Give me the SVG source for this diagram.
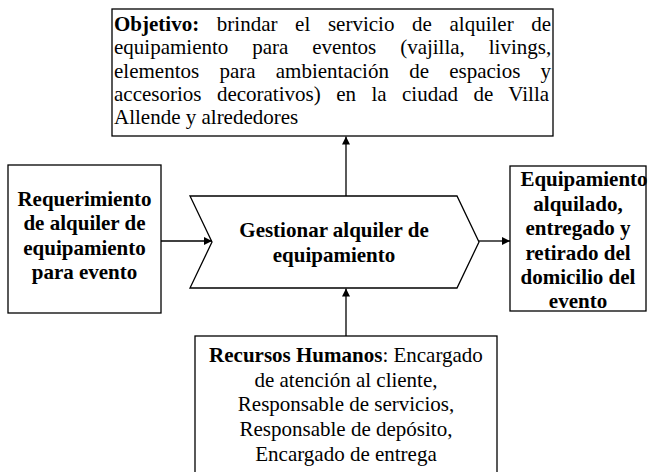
<svg xmlns="http://www.w3.org/2000/svg" width="648" height="472" viewBox="0 0 648 472">
<style>
.box{fill:#fff;stroke:#000;stroke-width:1.3}
.t{font-family:'Liberation Serif','Times New Roman',serif;font-size:21px;fill:#000}
.b{font-weight:bold}
.c{text-anchor:middle}
.conn{stroke:#000;stroke-width:1.3;fill:none}
</style>
<defs>
<marker id="arr" viewBox="0 0 10 10" refX="10" refY="5" markerWidth="8" markerHeight="8" markerUnits="userSpaceOnUse" orient="auto">
<path d="M0,0 L10,5 L0,10 Z" fill="#000"/>
</marker>
</defs>
<rect width="648" height="472" fill="#fff"/>
<g id="objetivo">
<rect class="box" x="112" y="9" width="441" height="127"/>
<text class="t" x="114" y="31" word-spacing="12.4"><tspan class="b">Objetivo:</tspan> brindar el servicio de alquiler de</text>
<text class="t" x="114" y="54.3" word-spacing="18.6">equipamiento para eventos (vajilla, livings,</text>
<text class="t" x="114" y="77.6" word-spacing="15">elementos para ambientación de espacios y</text>
<text class="t" x="114" y="101" word-spacing="10.2">accesorios decorativos) en la ciudad de Villa</text>
<text class="t" x="114" y="124">Allende y alrededores</text>
</g>
<g id="entrada">
<rect class="box" x="8" y="165" width="153" height="148"/>
<text class="t b c" x="84.5" y="206">Requerimiento</text>
<text class="t b c" x="84.5" y="230">de alquiler de</text>
<text class="t b c" x="84.5" y="255">equipamiento</text>
<text class="t b c" x="84.5" y="279">para evento</text>
</g>
<g id="proceso">
<path class="box" d="M190,196 L457,196 L479,242 L457,288 L190,288 L212,242 Z"/>
<text class="t b c" x="334" y="237">Gestionar alquiler de</text>
<text class="t b c" x="334" y="262">equipamiento</text>
</g>
<g id="salida">
<rect class="box" x="510" y="166" width="136" height="145"/>
<text class="t b c" x="584" y="186">Equipamiento</text>
<text class="t b c" x="578" y="211">alquilado,</text>
<text class="t b c" x="578" y="235">entregado y</text>
<text class="t b c" x="578" y="260">retirado del</text>
<text class="t b c" x="578" y="284">domicilio del</text>
<text class="t b c" x="578" y="308">evento</text>
</g>
<g id="recursos">
<rect class="box" x="195" y="336" width="302" height="142"/>
<text class="t c" x="346" y="362"><tspan class="b">Recursos Humanos</tspan>: Encargado</text>
<text class="t c" x="346" y="387">de atención al cliente,</text>
<text class="t c" x="346" y="411">Responsable de servicios,</text>
<text class="t c" x="346" y="436">Responsable de depósito,</text>
<text class="t c" x="346" y="461">Encargado de entrega</text>
</g>
<g id="connectors">
<line class="conn" x1="161" y1="241" x2="212" y2="241" marker-end="url(#arr)"/>
<line class="conn" x1="479" y1="241" x2="510" y2="241" marker-end="url(#arr)"/>
<line class="conn" x1="346" y1="196" x2="346" y2="136.5" marker-end="url(#arr)"/>
<line class="conn" x1="346" y1="336" x2="346" y2="288.5" marker-end="url(#arr)"/>
</g>
</svg>
